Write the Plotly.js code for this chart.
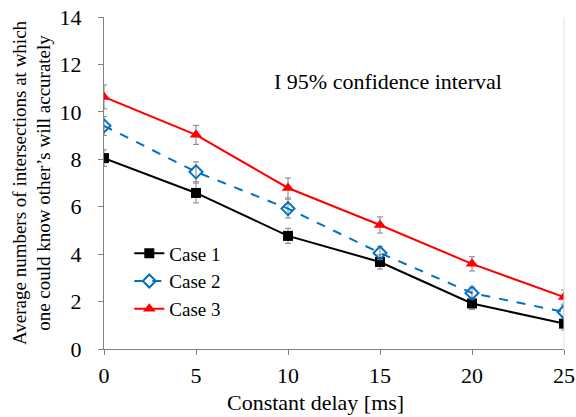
<!DOCTYPE html>
<html><head><meta charset="utf-8">
<script src="https://cdn.plot.ly/plotly-3.0.1.min.js"></script>
<style>html,body{margin:0;padding:0;background:#fff}#chart{width:576px;height:417px}</style>
</head><body><div id="chart"></div>
<script>
const delays = [0, 5, 10, 15, 20, 25];
const case1 = [8.05, 6.58, 4.77, 3.67, 1.92, 1.07];
const case2 = [9.41, 7.47, 5.92, 4.05, 2.36, 1.56];
const case3 = [10.63, 9.03, 6.79, 5.23, 3.59, 2.19];
const err1 = [0.35, 0.42, 0.32, 0.3, 0.25, 0.27];
const err2 = [0.4, 0.42, 0.4, 0.28, 0.25, 0.25];
const err3 = [0.5, 0.4, 0.42, 0.34, 0.3, 0.3];
const names = ['Case 1', 'Case 2', 'Case 3'];
const xTitle = 'Constant delay [ms]';
const yTitle = 'Average numbers of intersections at which<br>one could know other’s will accurately';
const FONT = '"Liberation Serif", serif';
const eb = (a) => ({type:'data', array:a, visible:true, color:'#808080', thickness:1, width:3});
const data = [
  {x:delays, y:case1, name:names[0], mode:'lines+markers', error_y:eb(err1),
   line:{color:'#000000', width:2}, marker:{symbol:'square', size:10, color:'#000000'}},
  {x:delays, y:case2, name:names[1], mode:'lines+markers', error_y:eb(err2),
   line:{color:'#0070C0', width:2, dash:'dash'}, marker:{symbol:'diamond-open', size:10, color:'#0070C0', line:{width:2, color:'#0070C0'}}},
  {x:delays, y:case3, name:names[2], mode:'lines+markers', error_y:eb(err3),
   line:{color:'#FF0000', width:2}, marker:{symbol:'triangle-up', size:11, color:'#FF0000'}}
];
const layout = {
  width:576, height:417,
  margin:{l:104, r:12, t:17, b:68},
  paper_bgcolor:'#fff', plot_bgcolor:'#fff',
  font:{family:FONT, color:'#000', size:22},
  showlegend:true,
  legend:{x:0.055, y:0.345, xanchor:'left', yanchor:'top', bgcolor:'rgba(0,0,0,0)', font:{size:19, family:FONT}, tracegroupgap:0, itemwidth:30},
  xaxis:{range:[0,25], tickvals:delays, showgrid:false, zeroline:false, showline:true, linecolor:'#808080', linewidth:1,
    ticks:'outside', ticklen:5, tickcolor:'#808080', tickfont:{size:22, family:FONT}, ticklabelstandoff:2},
  yaxis:{range:[0,14], dtick:2, showgrid:false, zeroline:false, showline:true, linecolor:'#808080', linewidth:1,
    ticks:'outside', ticklen:5, tickcolor:'#808080', tickfont:{size:22, family:FONT}, ticklabelstandoff:12,
    title:{text:yTitle, font:{size:19, family:FONT}, standoff:3}},
  annotations:[
    {xref:'paper', yref:'paper', x:0.365, y:0.805, xanchor:'left', yanchor:'middle', showarrow:false,
     text:'I 95% confidence interval', font:{size:22, family:FONT}},
    {xref:'paper', yref:'paper', x:0.459, y:-0.16, xanchor:'center', yanchor:'middle', showarrow:false,
     text:xTitle, font:{size:22, family:FONT}}
  ],
  shapes:[{type:'line', xref:'paper', yref:'paper', x0:1, x1:1, y0:0, y1:1, line:{color:'#e0e0e0', width:1}}]
};
Plotly.newPlot('chart', data, layout, {displayModeBar:false, staticPlot:true});
</script></body></html>
